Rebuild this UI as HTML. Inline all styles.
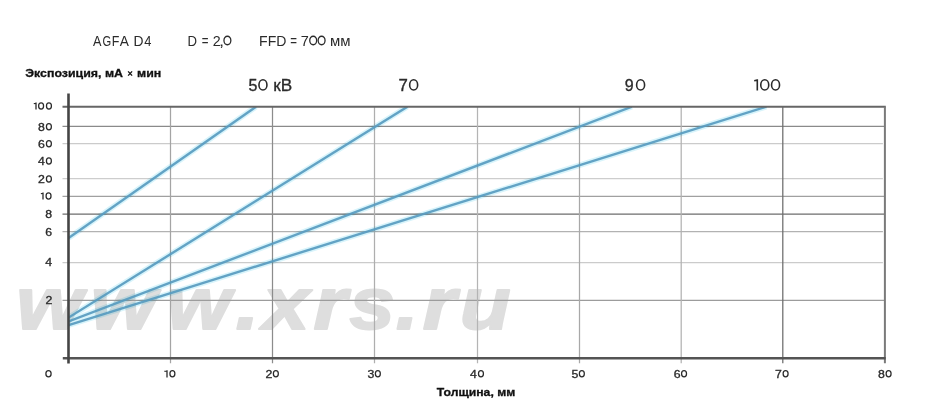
<!DOCTYPE html>
<html><head><meta charset="utf-8">
<style>
html,body{margin:0;padding:0;background:#fff;width:933px;height:417px;overflow:hidden}
svg{display:block;filter:blur(0.4px)}
text{font-family:"Liberation Sans",sans-serif;fill:#2b2b2b}
</style></head><body>
<svg width="933" height="417" viewBox="0 0 933 417">

<g font-size="74.5" font-weight="bold" font-style="italic" stroke="#dedede" stroke-width="2" stroke-linejoin="round">
<text transform="matrix(1.1424,0,0,1,16.3,0)" x="0" y="329" style="fill:#dedede">w</text>
<text transform="matrix(1.1281,0,0,1,90.64,0)" x="0" y="329" style="fill:#dedede">w</text>
<text transform="matrix(1.0996,0,0,1,167.04,0)" x="0" y="329" style="fill:#dedede">w</text>
<text transform="matrix(1.1526,0,0,1,235.5,0)" x="0" y="329" style="fill:#dedede">.</text>
<text transform="matrix(1.1261,0,0,1,262.8,0)" x="0" y="329" style="fill:#dedede">x</text>
<text transform="matrix(1.1465,0,0,1,313.4,0)" x="0" y="329" style="fill:#dedede">r</text>
<text transform="matrix(1.0914,0,0,1,349.4,0)" x="0" y="329" style="fill:#dedede">s</text>
<text transform="matrix(1.0914,0,0,1,395.7,0)" x="0" y="329" style="fill:#dedede">.</text>
<text transform="matrix(1.1465,0,0,1,422.8,0)" x="0" y="329" style="fill:#dedede">r</text>
<text transform="matrix(1.1118,0,0,1,460.0,0)" x="0" y="329" style="fill:#dedede">u</text>
</g>
<g stroke-width="1.25" fill="none">
<line x1="62.5" y1="126.4" x2="884" y2="126.4" stroke="#8a8a8a"/>
<line x1="62.5" y1="143.7" x2="882.9" y2="143.7" stroke="#cbcbcb"/>
<line x1="62.5" y1="178.7" x2="882.9" y2="178.7" stroke="#cdcdcd"/>
<line x1="62.5" y1="196.4" x2="884" y2="196.4" stroke="#a0a0a0"/>
<line x1="62.5" y1="214.2" x2="884" y2="214.2" stroke="#6c6c6c"/>
<line x1="62.5" y1="231.7" x2="882.9" y2="231.7" stroke="#b2b2b2"/>
<line x1="62.5" y1="262.5" x2="882.9" y2="262.5" stroke="#cbcbcb"/>
<line x1="62.5" y1="300.4" x2="884" y2="300.4" stroke="#9c9c9c"/>
</g>
<g stroke-width="1.25">
<line x1="170.5" y1="106.7" x2="170.5" y2="363.3" stroke="#a4a4a4"/>
<line x1="272.5" y1="106.7" x2="272.5" y2="363.3" stroke="#8c8c8c"/>
<line x1="374.5" y1="106.7" x2="374.5" y2="363.3" stroke="#aeaeae"/>
<line x1="477.5" y1="106.7" x2="477.5" y2="363.3" stroke="#b4b4b4"/>
<line x1="579.5" y1="106.7" x2="579.5" y2="363.3" stroke="#a8a8a8"/>
<line x1="681.2" y1="106.7" x2="681.2" y2="363.3" stroke="#b2b2b2"/>
<line x1="782.8" y1="106.7" x2="782.8" y2="363.3" stroke="#6c6c6c"/>
</g>
<defs><clipPath id="cp"><rect x="69" y="106.7" width="816" height="252"/></clipPath></defs>
<g clip-path="url(#cp)" style="mix-blend-mode:multiply"><g stroke="#d8f4fb" stroke-width="5.6" fill="none">
<line x1="68.6" y1="237.9" x2="256.0" y2="106.7"/>
<line x1="68.6" y1="317.6" x2="407.4" y2="106.7"/>
<line x1="68.6" y1="321.4" x2="631.9" y2="106.7"/>
<line x1="68.6" y1="325.1" x2="766.4" y2="106.7"/>
</g></g>
<g clip-path="url(#cp)"><g stroke="#589cc0" stroke-width="2.4" fill="none" opacity="0.92">
<line x1="68.6" y1="237.9" x2="256.0" y2="106.7"/>
<line x1="68.6" y1="317.6" x2="407.4" y2="106.7"/>
<line x1="68.6" y1="321.4" x2="631.9" y2="106.7"/>
<line x1="68.6" y1="325.1" x2="766.4" y2="106.7"/>
</g></g>
<line x1="62.5" y1="106.7" x2="885.8" y2="106.7" stroke="#666" stroke-width="2"/>
<line x1="884.9" y1="106.7" x2="884.9" y2="363.3" stroke="#7a7a7a" stroke-width="2"/>
<line x1="62.8" y1="358.2" x2="885.7" y2="358.2" stroke="#545454" stroke-width="2.6"/>
<line x1="68.5" y1="93.4" x2="68.5" y2="363.4" stroke="#444" stroke-width="2.6"/>
<text x="92.88" y="45.5" font-size="13.8" textLength="8.45" lengthAdjust="spacingAndGlyphs">A</text>
<text x="102.44" y="45.5" font-size="13.8" textLength="8.70" lengthAdjust="spacingAndGlyphs">G</text>
<text x="111.78" y="45.5" font-size="13.8" textLength="7.62" lengthAdjust="spacingAndGlyphs">F</text>
<text x="119.67" y="45.5" font-size="13.8" textLength="9.15" lengthAdjust="spacingAndGlyphs">A</text>
<text x="133.56" y="45.5" font-size="13.8" textLength="10.00" lengthAdjust="spacingAndGlyphs">D</text>
<text x="144.30" y="45.5" font-size="13.8" textLength="7.17" lengthAdjust="spacingAndGlyphs">4</text>
<text x="187.42" y="45.5" font-size="13.8" textLength="9.51" lengthAdjust="spacingAndGlyphs">D</text>
<text x="201.74" y="45.5" font-size="13.8" textLength="6.73" lengthAdjust="spacingAndGlyphs">=</text>
<text x="212.68" y="45.5" font-size="13.8" textLength="7.94" lengthAdjust="spacingAndGlyphs">2</text>
<text x="219.05" y="45.5" font-size="13.8" textLength="5.10" lengthAdjust="spacingAndGlyphs">,</text>
<text x="259.05" y="45.5" font-size="13.8" textLength="27.33" lengthAdjust="spacingAndGlyphs">FFD</text>
<text x="290.24" y="45.5" font-size="13.8" textLength="6.73" lengthAdjust="spacingAndGlyphs">=</text>
<text x="300.76" y="45.5" font-size="13.8" textLength="8.07" lengthAdjust="spacingAndGlyphs">7</text>
<text x="329.96" y="45.5" font-size="13.8" textLength="20.57" lengthAdjust="spacingAndGlyphs">мм</text>
<ellipse cx="227.4" cy="40.5" rx="3.45" ry="4.25" fill="none" stroke="#2b2b2b" stroke-width="1.3"/>
<ellipse cx="313.2" cy="40.5" rx="3.45" ry="4.25" fill="none" stroke="#2b2b2b" stroke-width="1.3"/>
<ellipse cx="321.6" cy="40.5" rx="3.45" ry="4.25" fill="none" stroke="#2b2b2b" stroke-width="1.3"/>
<text x="25.3" y="77.4" font-size="11" font-weight="bold" style="fill:#111;stroke:#111;stroke-width:0.3" textLength="136" lengthAdjust="spacingAndGlyphs">Экспозиция, мА <tspan style="fill:none;stroke:none">×</tspan> мин</text>
<path d="M128.1 71.4L132.1 75.6M132.1 71.4L128.1 75.6" stroke="#111" stroke-width="1.35" fill="none"/>
<text x="436.8" y="396.1" font-size="11" font-weight="bold" style="fill:#111;stroke:#111;stroke-width:0.3" textLength="78.5" lengthAdjust="spacingAndGlyphs">Толщина, мм</text>
<text x="252.9" y="91.46" font-size="16" text-anchor="middle" textLength="8.9" lengthAdjust="spacingAndGlyphs" style="stroke:#2b2b2b;stroke-width:0.35">5</text>
<ellipse cx="262.95" cy="84.9" rx="4" ry="5.15" fill="none" stroke="#2b2b2b" stroke-width="1.6"/>
<text x="273.2" y="90.6" font-size="16.5" textLength="19" lengthAdjust="spacingAndGlyphs" style="stroke:#2b2b2b;stroke-width:0.3">кВ</text>
<text x="403.15" y="91.46" font-size="16" text-anchor="middle" textLength="9.34" lengthAdjust="spacingAndGlyphs" style="stroke:#2b2b2b;stroke-width:0.35">7</text>
<ellipse cx="413.65" cy="84.9" rx="4" ry="5.15" fill="none" stroke="#2b2b2b" stroke-width="1.6"/>
<text x="629.3" y="91.46" font-size="16" text-anchor="middle" textLength="8.9" lengthAdjust="spacingAndGlyphs" style="stroke:#2b2b2b;stroke-width:0.35">9</text>
<ellipse cx="640.6" cy="84.9" rx="4" ry="5.15" fill="none" stroke="#2b2b2b" stroke-width="1.6"/>
<path d="M754.2 80.74L757.3 80.1M757.3 79.3V90.5" fill="none" stroke="#2b2b2b" stroke-width="1.6"/>
<ellipse cx="764.75" cy="84.9" rx="4" ry="5.15" fill="none" stroke="#2b2b2b" stroke-width="1.6"/>
<ellipse cx="775.55" cy="84.9" rx="4" ry="5.15" fill="none" stroke="#2b2b2b" stroke-width="1.6"/>
<path d="M33.8 103.57L36 103.05M36 102.4V109.5" fill="none" stroke="#2b2b2b" stroke-width="1.3"/>
<ellipse cx="41.1" cy="105.9" rx="2.48" ry="3.12" fill="none" stroke="#2b2b2b" stroke-width="1.25"/>
<ellipse cx="48.95" cy="105.9" rx="2.48" ry="3.12" fill="none" stroke="#2b2b2b" stroke-width="1.25"/>
<text x="41.4" y="130.84" font-size="10.1" text-anchor="middle" textLength="6.85" lengthAdjust="spacingAndGlyphs" style="stroke:#2b2b2b;stroke-width:0.3">8</text>
<ellipse cx="48.9" cy="126.7" rx="2.48" ry="3.12" fill="none" stroke="#2b2b2b" stroke-width="1.25"/>
<text x="41.4" y="147.84" font-size="10.1" text-anchor="middle" textLength="6.85" lengthAdjust="spacingAndGlyphs" style="stroke:#2b2b2b;stroke-width:0.3">6</text>
<ellipse cx="48.9" cy="143.7" rx="2.48" ry="3.12" fill="none" stroke="#2b2b2b" stroke-width="1.25"/>
<text x="41.4" y="165.19" font-size="10.1" text-anchor="middle" textLength="6.85" lengthAdjust="spacingAndGlyphs" style="stroke:#2b2b2b;stroke-width:0.3">4</text>
<ellipse cx="48.9" cy="161.05" rx="2.48" ry="3.12" fill="none" stroke="#2b2b2b" stroke-width="1.25"/>
<text x="41.4" y="183.14" font-size="10.1" text-anchor="middle" textLength="6.85" lengthAdjust="spacingAndGlyphs" style="stroke:#2b2b2b;stroke-width:0.3">2</text>
<ellipse cx="48.9" cy="179" rx="2.48" ry="3.12" fill="none" stroke="#2b2b2b" stroke-width="1.25"/>
<path d="M40.9 193.57L43 193.05M43 192.4V199.5" fill="none" stroke="#2b2b2b" stroke-width="1.3"/>
<ellipse cx="48.55" cy="195.9" rx="2.48" ry="3.12" fill="none" stroke="#2b2b2b" stroke-width="1.25"/>
<text x="48.6" y="217.74" font-size="10.1" text-anchor="middle" textLength="6.85" lengthAdjust="spacingAndGlyphs" style="stroke:#2b2b2b;stroke-width:0.3">8</text>
<text x="48.6" y="236.14" font-size="10.1" text-anchor="middle" textLength="6.85" lengthAdjust="spacingAndGlyphs" style="stroke:#2b2b2b;stroke-width:0.3">6</text>
<text x="48.6" y="266.04" font-size="10.1" text-anchor="middle" textLength="6.85" lengthAdjust="spacingAndGlyphs" style="stroke:#2b2b2b;stroke-width:0.3">4</text>
<text x="48.9" y="304.04" font-size="10.1" text-anchor="middle" textLength="6.85" lengthAdjust="spacingAndGlyphs" style="stroke:#2b2b2b;stroke-width:0.3">2</text>
<ellipse cx="48.5" cy="373.85" rx="2.62" ry="3.12" fill="none" stroke="#2b2b2b" stroke-width="1.25"/>
<path d="M164.4 371.42L167 370.9M167 370.25V377.55" fill="none" stroke="#2b2b2b" stroke-width="1.3"/>
<ellipse cx="172.4" cy="373.85" rx="2.48" ry="3.12" fill="none" stroke="#2b2b2b" stroke-width="1.25"/>
<text x="268.95" y="377.99" font-size="10.1" text-anchor="middle" textLength="6.85" lengthAdjust="spacingAndGlyphs" style="stroke:#2b2b2b;stroke-width:0.3">2</text>
<ellipse cx="275.85" cy="373.85" rx="2.48" ry="3.12" fill="none" stroke="#2b2b2b" stroke-width="1.25"/>
<text x="370.85" y="377.99" font-size="10.1" text-anchor="middle" textLength="6.85" lengthAdjust="spacingAndGlyphs" style="stroke:#2b2b2b;stroke-width:0.3">3</text>
<ellipse cx="377.85" cy="373.85" rx="2.48" ry="3.12" fill="none" stroke="#2b2b2b" stroke-width="1.25"/>
<text x="473.4" y="377.99" font-size="10.1" text-anchor="middle" textLength="6.85" lengthAdjust="spacingAndGlyphs" style="stroke:#2b2b2b;stroke-width:0.3">4</text>
<ellipse cx="480.95" cy="373.85" rx="2.48" ry="3.12" fill="none" stroke="#2b2b2b" stroke-width="1.25"/>
<text x="574.85" y="377.99" font-size="10.1" text-anchor="middle" textLength="6.85" lengthAdjust="spacingAndGlyphs" style="stroke:#2b2b2b;stroke-width:0.3">5</text>
<ellipse cx="581.85" cy="373.85" rx="2.48" ry="3.12" fill="none" stroke="#2b2b2b" stroke-width="1.25"/>
<text x="677.1" y="377.99" font-size="10.1" text-anchor="middle" textLength="6.85" lengthAdjust="spacingAndGlyphs" style="stroke:#2b2b2b;stroke-width:0.3">6</text>
<ellipse cx="684.05" cy="373.85" rx="2.48" ry="3.12" fill="none" stroke="#2b2b2b" stroke-width="1.25"/>
<text x="778.5" y="377.99" font-size="10.1" text-anchor="middle" textLength="6.85" lengthAdjust="spacingAndGlyphs" style="stroke:#2b2b2b;stroke-width:0.3">7</text>
<ellipse cx="785.6" cy="373.85" rx="2.48" ry="3.12" fill="none" stroke="#2b2b2b" stroke-width="1.25"/>
<text x="881.3" y="377.99" font-size="10.1" text-anchor="middle" textLength="6.85" lengthAdjust="spacingAndGlyphs" style="stroke:#2b2b2b;stroke-width:0.3">8</text>
<ellipse cx="888.6" cy="373.85" rx="2.48" ry="3.12" fill="none" stroke="#2b2b2b" stroke-width="1.25"/>
</svg>
</body></html>
